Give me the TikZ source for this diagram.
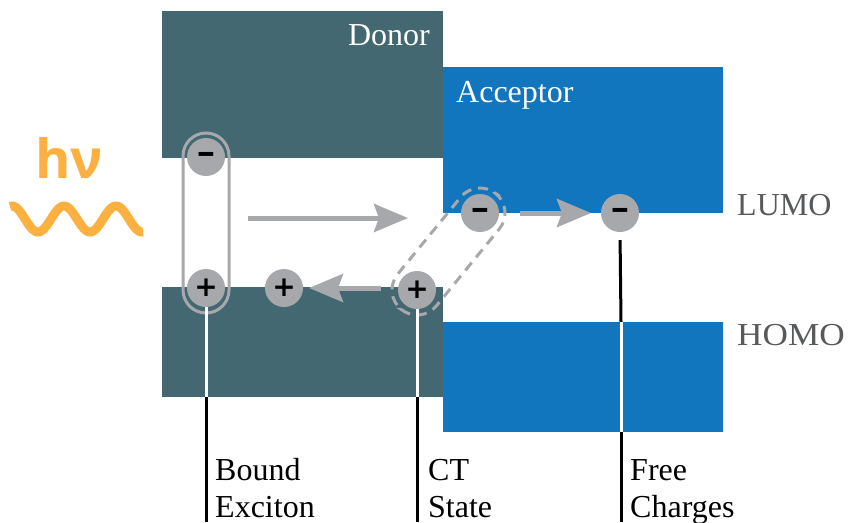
\documentclass[tikz,border=0pt]{standalone}
\usepackage{fontspec}
\setmainfont{Liberation Serif}
\newfontfamily\hvfont{Open Sans}
\newfontfamily\signfont{DejaVu Sans}
\usetikzlibrary{arrows.meta}
\definecolor{donorc}{HTML}{436871}
\definecolor{acceptc}{HTML}{1276BE}
\definecolor{chg}{HTML}{A7A8AB}
\definecolor{orng}{HTML}{FBB040}
\definecolor{lbl}{HTML}{58595B}
\begin{document}
\begin{tikzpicture}[x=1pt,y=-1pt,
  donorblock/.style={fill=donorc, draw=none, anchor=north west, inner sep=0pt, minimum width=281pt},
  acceptblock/.style={fill=acceptc, draw=none, anchor=north west, inner sep=0pt, minimum width=280pt},
  blocktext/.style={text=white, font=\fontsize{32}{37}\selectfont, inner sep=0pt},
  charge/.style={circle, fill=chg, minimum size=38pt, inner sep=0pt, text=black, font=\signfont\bfseries\fontsize{28}{28}\selectfont},
  flow/.style={draw=chg, line width=5pt, -{Stealth[length=34pt, width=28pt, inset=5pt]}},
  whiteline/.style={draw=white, line width=3pt},
  blackline/.style={draw=black, line width=3pt},
  lab/.style={font=\fontsize{32}{37}\selectfont, inner sep=0pt, anchor=base west},
  level/.style={font=\fontsize{32}{37}\selectfont, text=lbl, inner sep=0pt, anchor=base west},
  enclose/.style={draw=chg, line width=3pt}
]
\useasboundingbox (0,0) rectangle (851,522);

% blocks
\node[donorblock, minimum height=147pt] (donorTop) at (162,11) {};
\node[donorblock, minimum height=110pt] (donorBot) at (162,287) {};
\node[acceptblock, minimum height=146pt] (accTop) at (443,67) {};
\node[acceptblock, minimum height=110pt] (accBot) at (443,322) {};

\node[blocktext, anchor=base east] (donorLbl) at (430,45) {Donor};
\node[blocktext, anchor=base west] (accLbl) at (456,102) {Acceptor};

% level labels
\node[level] (lumo) at (737,215) {LUMO};
\node[level, xscale=1.1] (homo) at (737,345) {HOMO};

% light
\node[font=\hvfont\bfseries\fontsize{54}{54}\selectfont, text=orng, inner sep=0pt, anchor=base west] (hv) at (35,178) {hν};
\draw[orng, line width=9pt] plot[domain=10:143, samples=140, smooth] (\x, {219-13*cos(6.923*(\x-12))});

% exciton enclosure
\draw[enclose, rounded corners=23pt] (183,133) rectangle (229,313);

% CT enclosure
\coordinate (ctAxis) at (417,290);
\begin{scope}[shift={(ctAxis)}, rotate=50.7]
  \draw[enclose, dashed, dash pattern=on 10pt off 7pt, rounded corners=25pt] (-25,-25) rectangle (124.5,25);
\end{scope}

% vertical marker lines
\coordinate (exBot) at (206,397);
\coordinate (exEnd) at (206,522);
\coordinate (ctBot) at (417,397);
\coordinate (ctEnd) at (417,522);
\coordinate (frA) at (621,322);
\coordinate (frB) at (621,432);
\coordinate (frEnd) at (621,522);

\node[charge] (exM) at (206,157) {\scalebox{1.7}[1]{-}};
\node[charge] (exP) at (206,288) {+};
\node[charge] (hP) at (284,288) {+};
\node[charge] (ctP) at (417,290) {+};
\node[charge] (ctM) at (480,213) {\scalebox{1.7}[1]{-}};
\node[charge] (frM) at (620,213) {\scalebox{1.7}[1]{-}};

\draw[whiteline] (exP.south) -- (exBot);
\draw[blackline] (exBot) -- (exEnd);
\draw[whiteline] (ctP.south) -- (ctBot);
\draw[blackline] (ctBot) -- (ctEnd);
\draw[blackline, shorten <=8pt] (frM.south) -- (frA);
\draw[whiteline] (frA) -- (frB);
\draw[blackline] (frB) -- (frEnd);

% arrows
\coordinate (a1s) at (248,218);
\coordinate (a1e) at (408,218);
\coordinate (a2s) at (381,288);
\coordinate (a2e) at (309,288);
\coordinate (a3s) at (520,213);
\coordinate (a3e) at (591,213);
\draw[flow] (a1s) -- (a1e);
\draw[flow] (a2s) -- (a2e);
\draw[flow] (a3s) -- (a3e);

% state labels
\node[lab] (b1) at (215,480) {Bound};
\node[lab] (b2) at (215,517) {Exciton};
\node[lab] (c1) at (428,480) {CT};
\node[lab] (c2) at (428,517) {State};
\node[lab] (f1) at (630,480) {Free};
\node[lab] (f2) at (630,517) {Charges};
\end{tikzpicture}
\end{document}
